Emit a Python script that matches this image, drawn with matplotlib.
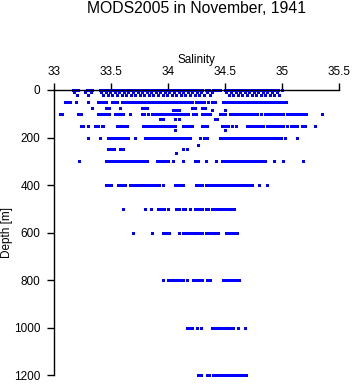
import matplotlib
matplotlib.use("Agg")
import matplotlib.pyplot as plt

plt.rcParams['font.family'] = ['Liberation Sans', 'DejaVu Sans']

title = "MODS2005 in November, 1941"
xlabel = "Salinity"
ylabel = "Depth [m]"
xticks = [33, 33.5, 34, 34.5, 35, 35.5]
xticklabels = ["33", "33.5", "34", "34.5", "35", "35.5"]
yticks = [0, 200, 400, 600, 800, 1000, 1200]

# salinity observations per standard depth (m)
sal_0 = [33.16, 33.18, 33.21, 33.29, 33.31, 33.33,
         33.40, 33.42, 33.44, 33.46, 33.48, 33.50, 33.52, 33.54, 33.56, 33.58, 33.60, 33.62, 33.64, 33.66,
         33.68, 33.70, 33.72, 33.74, 33.76, 33.78, 33.80, 33.82, 33.84, 33.86, 33.88, 33.90, 33.92, 33.94,
         33.96, 33.98, 34.00, 34.02, 34.04, 34.06, 34.08, 34.10, 34.12, 34.14, 34.16, 34.18, 34.20, 34.22,
         34.24, 34.26, 34.28, 34.30, 34.33, 34.36, 34.39, 34.41, 34.43, 34.45,
         34.50, 34.52, 34.54, 34.56, 34.58, 34.60, 34.62, 34.64, 34.66, 34.68, 34.70, 34.72, 34.74, 34.76,
         34.78, 34.80, 34.82, 34.84, 34.86, 34.88, 34.90, 34.92, 34.94, 34.96, 35.00]
sal_10 = [33.17, 33.27, 33.32, 33.41, 33.45, 33.49, 33.53, 33.57, 33.61, 33.65, 33.69, 33.73, 33.77, 33.81,
          33.85, 33.89, 33.93, 33.97, 34.01, 34.05, 34.09, 34.13, 34.17, 34.21, 34.25, 34.29, 34.34, 34.38,
          34.51, 34.55, 34.59, 34.63, 34.67, 34.71, 34.75, 34.79, 34.83, 34.87, 34.91, 34.95]
sal_20 = [33.20, 33.30, 33.43, 33.47, 33.51, 33.55, 33.59, 33.63, 33.67, 33.71, 33.75, 33.79, 33.83, 33.87,
          33.91, 33.95, 33.99, 34.03, 34.07, 34.11, 34.15, 34.19, 34.23, 34.27, 34.31, 34.37, 34.53, 34.57,
          34.61, 34.65, 34.69, 34.73, 34.77, 34.81, 34.85, 34.89, 34.93, 34.97]
sal_50 = [33.09, 33.11, 33.14, 33.19, 33.30, 33.38, 33.40, 33.43, 33.45, 33.51, 33.53, 33.55, 33.59, 33.62,
          33.64, 33.66, 33.68, 33.70, 33.72, 33.74, 33.76, 33.78, 33.80, 33.82, 33.84, 33.86, 33.88, 33.90,
          33.92, 33.94, 33.96, 33.98, 34.00, 34.02, 34.04, 34.06, 34.08, 34.10, 34.12, 34.14, 34.16, 34.18,
          34.21, 34.24, 34.27, 34.29, 34.31, 34.35, 34.38, 34.41, 34.48, 34.50, 34.52, 34.55, 34.58, 34.60,
          34.63, 34.65, 34.67, 34.69, 34.71, 34.73, 34.75, 34.77, 34.79, 34.81, 34.83, 34.85, 34.87, 34.89,
          34.91, 34.93, 34.95, 34.97, 34.99, 35.01, 35.03]
sal_75 = [33.33, 33.45, 33.48, 33.58, 33.77, 33.79, 33.81, 34.21, 34.23, 34.30, 34.32]
sal_85 = [34.04, 34.07, 34.09, 34.38, 34.50]
sal_100 = [33.05, 33.07, 33.21, 33.23, 33.38, 33.40, 33.42, 33.44, 33.46, 33.48, 33.53, 33.55, 33.58, 33.60,
           33.66, 33.77, 33.79, 33.82, 33.86, 33.88, 33.90, 33.92, 33.94, 33.96, 33.98, 34.00, 34.02, 34.04,
           34.06, 34.08, 34.10, 34.12, 34.15, 34.17, 34.22, 34.24, 34.30, 34.32, 34.35, 34.37, 34.45, 34.48,
           34.50, 34.54, 34.56, 34.58, 34.60, 34.62, 34.64, 34.66, 34.68, 34.70, 34.72, 34.74, 34.76, 34.78,
           34.81, 34.85, 34.87, 34.89, 34.91, 34.93, 34.95, 34.97, 34.99, 35.01, 35.04, 35.06, 35.08, 35.10,
           35.12, 35.14, 35.16, 35.18, 35.21, 35.35]
sal_120 = [33.93, 33.95, 34.06, 34.09, 34.41, 34.43]
sal_150 = [33.23, 33.25, 33.30, 33.36, 33.38, 33.42, 33.43, 33.55, 33.57, 33.59, 33.62, 33.64, 33.78, 33.80,
           33.82, 33.84, 33.86, 33.88, 33.90, 33.92, 33.94, 33.96, 33.98, 34.00, 34.02, 34.04, 34.06, 34.13,
           34.15, 34.17, 34.19, 34.21, 34.30, 34.32, 34.34, 34.47, 34.50, 34.52, 34.56, 34.59, 34.69, 34.71,
           34.73, 34.75, 34.77, 34.79, 34.81, 34.83, 34.87, 34.89, 34.91, 34.93, 34.95, 34.97, 34.99, 35.01,
           35.04, 35.08, 35.10, 35.13, 35.17, 35.20, 35.29]
sal_168 = [34.06, 34.50]
sal_200 = [33.30, 33.40, 33.47, 33.49, 33.51, 33.53, 33.55, 33.57, 33.59, 33.61, 33.63, 33.65, 33.71, 33.80,
           33.82, 33.84, 33.86, 33.88, 33.90, 33.92, 33.94, 33.96, 33.98, 34.00, 34.02, 34.04, 34.06, 34.08,
           34.10, 34.12, 34.14, 34.16, 34.19, 34.28, 34.31, 34.34, 34.45, 34.47, 34.49, 34.51, 34.53, 34.55,
           34.57, 34.59, 34.61, 34.63, 34.65, 34.67, 34.69, 34.71, 34.73, 34.75, 34.77, 34.79, 34.81, 34.83,
           34.85, 34.87, 34.89, 34.91, 34.93, 34.95, 34.97, 34.99, 35.02, 35.13]
sal_232 = [34.26]
sal_250 = [33.47, 33.50, 33.52, 33.58, 33.60, 34.13, 34.16]
sal_265 = [34.07]
sal_300 = [33.22, 33.45, 33.47, 33.49, 33.51, 33.53, 33.55, 33.57, 33.59, 33.61, 33.63, 33.65, 33.67, 33.69,
           33.71, 33.73, 33.75, 33.77, 33.79, 33.81, 33.90, 33.92, 33.94, 33.96, 33.98, 34.00, 34.04, 34.13,
           34.23, 34.26, 34.33, 34.42, 34.47, 34.49, 34.51, 34.53, 34.55, 34.57, 34.59, 34.61, 34.63, 34.65,
           34.67, 34.69, 34.71, 34.73, 34.75, 34.77, 34.79, 34.81, 34.83, 34.85, 34.93, 35.01, 35.18]
sal_400 = [33.45, 33.47, 33.50, 33.56, 33.58, 33.60, 33.62, 33.66, 33.68, 33.70, 33.72, 33.74, 33.76, 33.78,
           33.80, 33.82, 33.84, 33.86, 33.88, 33.90, 33.92, 33.95, 34.06, 34.08, 34.10, 34.13, 34.24, 34.26,
           34.28, 34.30, 34.33, 34.35, 34.37, 34.39, 34.41, 34.43, 34.45, 34.47, 34.49, 34.51, 34.53, 34.55,
           34.57, 34.59, 34.61, 34.63, 34.65, 34.67, 34.69, 34.71, 34.73, 34.80, 34.87]
sal_500 = [33.60, 33.80, 33.85, 33.91, 33.94, 33.96, 34.00, 34.07, 34.09, 34.13, 34.15, 34.19, 34.23, 34.26,
           34.28, 34.30, 34.33, 34.35, 34.38, 34.40, 34.42, 34.44, 34.46, 34.48, 34.50, 34.52, 34.54, 34.56,
           34.58]
sal_600 = [33.69, 33.86, 33.95, 33.98, 34.01, 34.09, 34.13, 34.15, 34.17, 34.19, 34.22, 34.23, 34.26, 34.28,
           34.30, 34.33, 34.36, 34.38, 34.41, 34.44, 34.51, 34.53, 34.55, 34.58, 34.60]
sal_800 = [33.95, 34.00, 34.02, 34.04, 34.06, 34.08, 34.10, 34.13, 34.16, 34.22, 34.24, 34.26, 34.28, 34.30,
           34.34, 34.37, 34.48, 34.50, 34.52, 34.54, 34.56, 34.58, 34.60, 34.62]
sal_1000 = [34.16, 34.18, 34.21, 34.25, 34.29, 34.38, 34.40, 34.42, 34.44, 34.46, 34.48, 34.50, 34.52, 34.54,
            34.57, 34.61, 34.67]
sal_1200 = [34.26, 34.29, 34.34, 34.36, 34.39, 34.42, 34.44, 34.46, 34.48, 34.50, 34.52, 34.54, 34.56, 34.58,
            34.60, 34.62, 34.64, 34.66, 34.68]

profiles = {
    0: sal_0, 10: sal_10, 20: sal_20, 50: sal_50, 75: sal_75, 85: sal_85, 100: sal_100,
    120: sal_120, 150: sal_150, 168: sal_168, 200: sal_200, 232: sal_232, 250: sal_250,
    265: sal_265, 300: sal_300, 400: sal_400, 500: sal_500, 600: sal_600, 800: sal_800,
    1000: sal_1000, 1200: sal_1200,
}

W, H = 353, 384
fig = plt.figure(figsize=(W / 100, H / 100), dpi=100)
ax = fig.add_axes([54.3 / W, 1 - 375.3 / H, 285 / W, 285.3 / H])

for depth, sal in profiles.items():
    ax.plot(sal, [depth] * len(sal), linestyle='none', marker='s', markersize=2.16,
            markeredgewidth=0, color='#0000ff', clip_on=False, antialiased=False)

ax.set_xlim(33, 35.5)
ax.set_ylim(1200, 0)
ax.xaxis.set_ticks_position('top')
ax.xaxis.set_label_position('top')
ax.set_xticks(xticks)
ax.set_xticklabels(xticklabels)
ax.set_yticks(yticks)
ax.tick_params(direction='out', length=5, width=1, labelsize=8.5, colors='black')
ax.tick_params(axis='x', pad=3.3)
ax.tick_params(axis='y', pad=5)
for s in ['right', 'bottom']:
    ax.spines[s].set_visible(False)
for s in ['left', 'top']:
    ax.spines[s].set_linewidth(1)
ax.set_xlabel(xlabel, fontsize=8.5, labelpad=2.5)
ax.set_ylabel(ylabel, fontsize=8.5)
ax.yaxis.set_label_coords((13 - 54.3) / 285, 0.5)
fig.text(196.8 / W, 1 - 12.7 / H, title, ha='center', va='baseline', fontsize=11.3)

fig.savefig('out.png', dpi=100)
